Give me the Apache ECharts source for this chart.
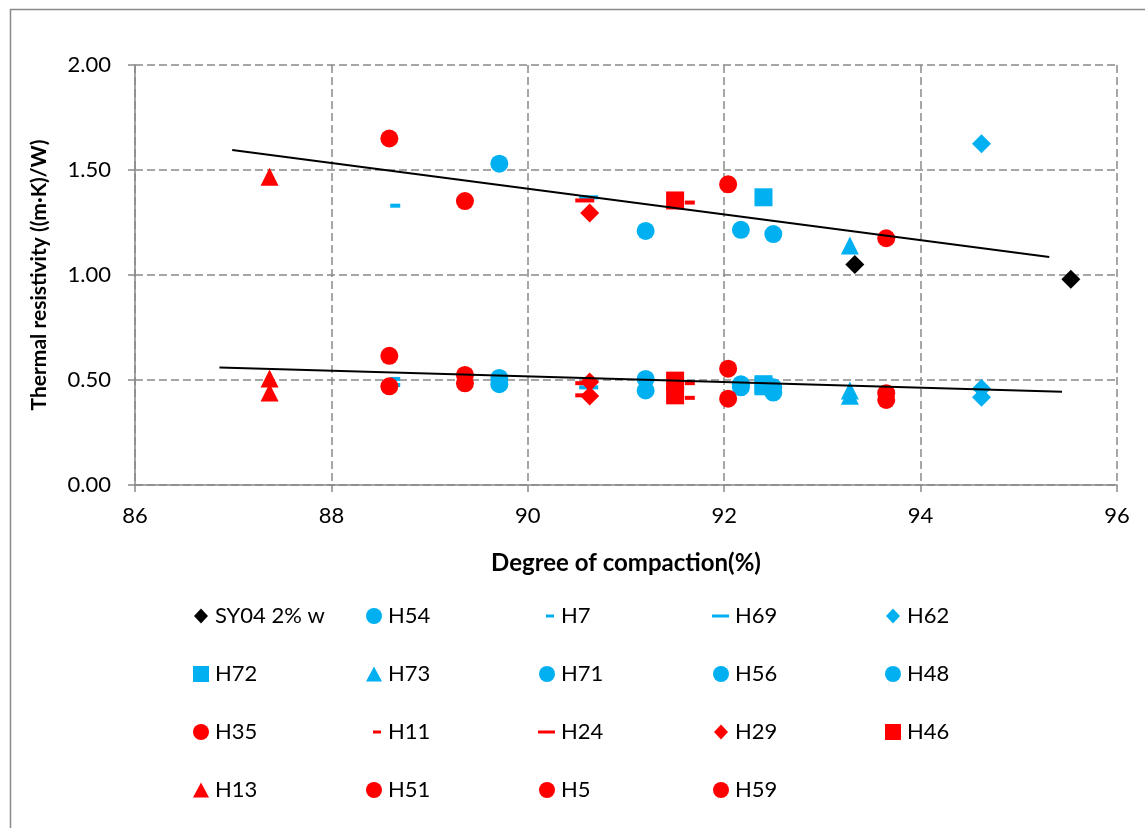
<!DOCTYPE html>
<html>
<head>
<meta charset="utf-8">
<script src="https://cdn.jsdelivr.net/npm/echarts@6/dist/echarts.min.js"></script>
<style>
  html, body { margin: 0; padding: 0; background: #ffffff; }
  #chart { width: 1145px; height: 828px; }
</style>
</head>
<body>
<div id="chart"></div>
<script>
// Measured samples: [degree of compaction (%), thermal resistivity ((m·K)/W)]
const sy04 = [[93.33, 1.05], [95.53, 0.98]];
const h54  = [[89.71, 1.53], [89.71, 0.51], [89.71, 0.48]];
const h7   = [[88.65, 1.33], [88.65, 0.505], [88.65, 0.476]];
const h69  = [[90.62, 1.37], [90.62, 0.465]];
const h62  = [[94.62, 1.625], [94.62, 0.46], [94.62, 0.418]];
const h72  = [[92.40, 1.37], [92.40, 0.48], [92.40, 0.47]];
const h73  = [[93.28, 1.14], [93.28, 0.45], [93.28, 0.425]];
const h71  = [[91.20, 1.21], [91.20, 0.505], [91.20, 0.45]];
const h56  = [[92.17, 1.215], [92.17, 0.48], [92.17, 0.465]];
const h48  = [[92.50, 1.195], [92.50, 0.465], [92.50, 0.44]];
const h35  = [[88.59, 1.65], [88.59, 0.615], [88.59, 0.47]];
const h11  = [[91.65, 1.345], [91.65, 0.485], [91.65, 0.415]];
const h24  = [[90.58, 1.355], [90.58, 0.485], [90.58, 0.427]];
const h29  = [[90.63, 1.295], [90.63, 0.49], [90.63, 0.424]];
const h46  = [[91.50, 1.355], [91.50, 0.497], [91.50, 0.427]];
const h13  = [[87.37, 1.468], [87.37, 0.507], [87.37, 0.44]];
const h51  = [[89.36, 1.352], [89.36, 0.524], [89.36, 0.484]];
const h5   = [[92.04, 1.432], [92.04, 0.554], [92.04, 0.411]];
const h59  = [[93.65, 1.175], [93.65, 0.437], [93.65, 0.405]];

// Linear trend lines (end points)
const upperTrend = [[86.99, 1.595], [95.31, 1.086]];
const lowerTrend = [[86.86, 0.560], [95.44, 0.444]];

// Axis ranges
const xRange = { min: 86, max: 96, step: 2 };
const yRange = { min: 0, max: 2, step: 0.5 };

const CYAN = '#00B0F0', RED = '#FF0000', BLACK = '#000000';
const FONT = 'Lato, "Open Sans", sans-serif';

// Plot markers
const MARK = {
  diamond:   { symbol: 'diamond',  size: [19, 19] },
  circle:    { symbol: 'circle',   size: 18 },
  square:    { symbol: 'rect',     size: 18 },
  triangle:  { symbol: 'triangle', size: 18 },
  shortDash: { symbol: 'rect',     size: [10, 4] },
  longDash:  { symbol: 'rect',     size: [19, 4] }
};
// Legend icons drawn inside a fixed 18x18 box
const BOX = 'path://M0,0M18,18';
const ICON = {
  diamond:   BOX + 'M9,1.5L16,9L9,16.5L2,9Z',
  circle:    BOX + 'M1,9A8,8,0,1,1,17,9A8,8,0,1,1,1,9Z',
  square:    BOX + 'M1,1H17V17H1Z',
  triangle:  BOX + 'M9,1.5L17,16.5L1,16.5Z',
  shortDash: BOX + 'M8,7.5H16V10.5H8Z',
  longDash:  BOX + 'M0,7.5H17V10.5H0Z'
};

const groups = [
  { name: 'SY04 2% w', data: sy04, color: BLACK, mark: 'diamond' },
  { name: 'H54', data: h54, color: CYAN, mark: 'circle' },
  { name: 'H7',  data: h7,  color: CYAN, mark: 'shortDash' },
  { name: 'H69', data: h69, color: CYAN, mark: 'longDash' },
  { name: 'H62', data: h62, color: CYAN, mark: 'diamond' },
  { name: 'H72', data: h72, color: CYAN, mark: 'square' },
  { name: 'H73', data: h73, color: CYAN, mark: 'triangle' },
  { name: 'H71', data: h71, color: CYAN, mark: 'circle' },
  { name: 'H56', data: h56, color: CYAN, mark: 'circle' },
  { name: 'H48', data: h48, color: CYAN, mark: 'circle' },
  { name: 'H35', data: h35, color: RED, mark: 'circle' },
  { name: 'H11', data: h11, color: RED, mark: 'shortDash' },
  { name: 'H24', data: h24, color: RED, mark: 'longDash' },
  { name: 'H29', data: h29, color: RED, mark: 'diamond' },
  { name: 'H46', data: h46, color: RED, mark: 'square' },
  { name: 'H13', data: h13, color: RED, mark: 'triangle' },
  { name: 'H51', data: h51, color: RED, mark: 'circle' },
  { name: 'H5',  data: h5,  color: RED, mark: 'circle' },
  { name: 'H59', data: h59, color: RED, mark: 'circle' }
];

const series = groups.map((g, i) => ({
  name: g.name,
  type: 'scatter',
  data: g.data,
  symbol: MARK[g.mark].symbol,
  symbolSize: MARK[g.mark].size,
  itemStyle: { color: g.color, opacity: 1 },
  z: 2 + i * 0.01,
  silent: true
}));

[upperTrend, lowerTrend].forEach(t => series.push({
  type: 'line',
  data: t,
  symbol: 'none',
  lineStyle: { color: BLACK, width: 2 },
  z: 5,
  silent: true
}));

// Legend laid out as five columns of up to four rows
const colLeft = [192, 365, 538, 712, 884];
const legends = colLeft.map((left, c) => ({
  orient: 'vertical',
  left: left,
  top: 605,
  padding: 0,
  itemWidth: 18,
  itemHeight: 18,
  itemGap: 36,
  selectedMode: false,
  textStyle: { fontFamily: FONT, fontSize: 22, color: '#000', lineHeight: 22 },
  data: groups.filter((g, i) => i % 5 === c).map(g => ({ name: g.name, icon: ICON[g.mark] }))
}));

const gridLine = { show: true, lineStyle: { color: '#898989', width: 1.5, type: [8, 4] } };
const axisLine = { show: true, lineStyle: { color: '#898989', width: 1.5 } };
const axisTick = { show: true, inside: false, length: 7, lineStyle: { color: '#898989', width: 1.5 } };

const option = {
  backgroundColor: '#ffffff',
  animation: false,
  grid: { left: 135, right: 28, top: 65, bottom: 343 },
  xAxis: {
    type: 'value',
    min: xRange.min, max: xRange.max, interval: xRange.step,
    name: 'Degree of compaction(%)',
    nameLocation: 'middle',
    nameGap: 66,
    nameTextStyle: { fontFamily: FONT, fontSize: 24, fontWeight: 'bold', color: '#000' },
    axisLine: axisLine, axisTick: axisTick, splitLine: gridLine,
    axisLabel: { fontFamily: FONT, fontSize: 22, color: '#000', margin: 20 }
  },
  yAxis: {
    type: 'value',
    min: yRange.min, max: yRange.max, interval: yRange.step,
    name: 'Thermal resistivity ((m·K)/W)',
    nameLocation: 'middle',
    nameGap: 85,
    nameTextStyle: { fontFamily: FONT, fontSize: 21, fontWeight: 'bold', color: '#000' },
    axisLine: axisLine, axisTick: axisTick, splitLine: gridLine,
    axisLabel: { fontFamily: FONT, fontSize: 22, color: '#000', margin: 24,
                 formatter: v => v.toFixed(2) }
  },
  legend: legends,
  graphic: [{
    type: 'rect',
    left: 8, top: 7,
    shape: { width: 1200, height: 900 },
    style: { fill: 'none', stroke: '#898989', lineWidth: 1.5 },
    silent: true, z: -1
  }],
  series: series
};

const chart = echarts.init(document.getElementById('chart'), null, { renderer: 'canvas' });
chart.setOption(option);
</script>
</body>
</html>
